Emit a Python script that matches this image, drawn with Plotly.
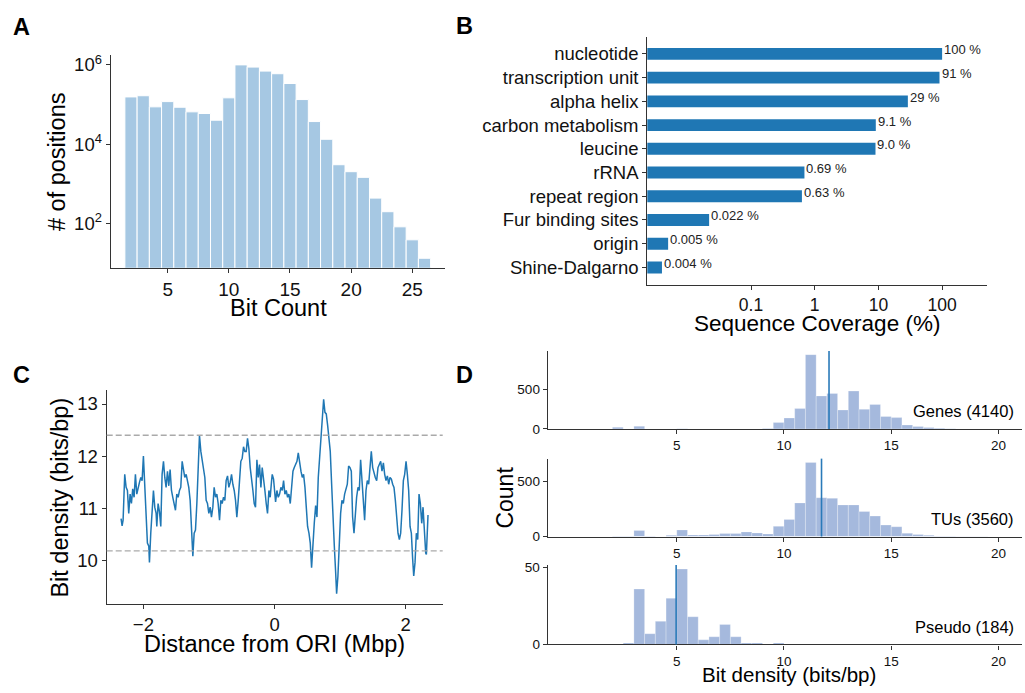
import math
import plotly.graph_objects as go

# ---------------- data ----------------
# Panel A: bit count histogram (log scale)
bit_count = [2, 3, 4, 5, 6, 7, 8, 9, 10, 11, 12, 13, 14, 15, 16, 17, 18, 19, 20, 21, 22, 23, 24, 25, 26]
positions = [1.55e5, 1.66e5, 8.7e4, 1.18e5, 8.5e4, 6.5e4, 5.9e4, 4.0e4, 1.47e5, 1.0e6,
             8.8e5, 6.96e5, 5.98e5, 3.38e5, 1.33e5, 3.7e4, 1.32e4, 3.0e3, 2.0e3, 1.44e3,
             430, 195, 81, 38, 13]

# Panel B: sequence coverage
features = ["nucleotide", "transcription unit", "alpha helix", "carbon metabolism", "leucine",
            "rRNA", "repeat region", "Fur binding sites", "origin", "Shine-Dalgarno"]
coverage = [100, 91, 29, 9.1, 9.0, 0.69, 0.63, 0.022, 0.005, 0.004]
coverage_labels = ["100 %", "91 %", "29 %", "9.1 %", "9.0 %", "0.69 %", "0.63 %", "0.022 %", "0.005 %", "0.004 %"]

# Panel C: bit density along the genome
dist_mbp = [
    -2.341, -2.325, -2.310, -2.285, -2.264, -2.244, -2.224, -2.203, -2.183, -2.163,
    -2.142, -2.122, -2.101, -2.081, -2.061, -2.040, -2.020, -2.000, -1.979, -1.959,
    -1.939, -1.918, -1.908, -1.888, -1.867, -1.847, -1.827, -1.806, -1.796, -1.776,
    -1.755, -1.735, -1.715, -1.694, -1.674, -1.654, -1.633, -1.613, -1.593, -1.572,
    -1.552, -1.531, -1.511, -1.491, -1.470, -1.450, -1.430, -1.409, -1.389, -1.369,
    -1.348, -1.328, -1.308, -1.287, -1.267, -1.246, -1.226, -1.206, -1.185, -1.165,
    -1.145, -1.124, -1.104, -1.084, -1.063, -1.043, -1.023, -1.002, -0.982, -0.962,
    -0.941, -0.921, -0.900, -0.880, -0.860, -0.839, -0.819, -0.799, -0.778, -0.758,
    -0.738, -0.717, -0.697, -0.677, -0.656, -0.636, -0.615, -0.595, -0.575, -0.554,
    -0.534, -0.514, -0.493, -0.473, -0.453, -0.432, -0.412, -0.392, -0.371, -0.351,
    -0.330, -0.310, -0.290, -0.269, -0.249, -0.229, -0.208, -0.188, -0.168, -0.147,
    -0.127, -0.107, -0.086, -0.066, -0.045,
    -0.035, -0.015, 0.006, 0.016, 0.036, 0.057, 0.077, 0.097, 0.118, 0.138,
    0.158, 0.179, 0.199, 0.219, 0.240, 0.260, 0.281, 0.301, 0.321, 0.342,
    0.362, 0.382, 0.403, 0.423, 0.443, 0.464, 0.484, 0.504, 0.525, 0.545,
    0.565, 0.586, 0.606, 0.627, 0.647, 0.667, 0.688, 0.708, 0.728, 0.749,
    0.769, 0.789, 0.810, 0.830, 0.850, 0.871, 0.891, 0.912, 0.932, 0.947,
    0.967, 0.988, 1.008, 1.028, 1.049, 1.069, 1.090, 1.110, 1.130, 1.151,
    1.171, 1.191, 1.212, 1.232, 1.252, 1.273, 1.293, 1.313, 1.334, 1.354,
    1.374, 1.395, 1.415, 1.436, 1.456, 1.476, 1.497, 1.517, 1.537, 1.558,
    1.578, 1.598, 1.619, 1.639, 1.660, 1.680, 1.700, 1.721, 1.741, 1.761,
    1.782, 1.802, 1.822, 1.843, 1.863, 1.883, 1.904, 1.924, 1.944, 1.965,
    1.985, 2.006, 2.026, 2.046, 2.067, 2.087, 2.107, 2.123, 2.143, 2.163,
    2.184, 2.204, 2.224, 2.245, 2.265, 2.285, 2.306, 2.316, 2.331, 2.341,
]
bit_density = [
    10.80, 10.66, 10.77, 11.65, 11.40, 11.34, 10.90, 11.27, 11.09, 11.37,
    11.21, 11.65, 11.27, 11.40, 11.49, 11.59, 11.53, 12.00, 11.46, 10.83,
    10.33, 10.27, 9.96, 10.52, 11.02, 11.34, 11.02, 10.90, 10.65, 11.09,
    10.93, 10.65, 11.65, 11.90, 11.59, 11.40, 11.71, 11.43, 11.74, 11.34,
    11.21, 11.09, 10.96, 11.27, 11.21, 11.34, 11.40, 11.90, 11.71, 11.59,
    11.65, 11.53, 11.40, 11.15, 10.71, 10.08, 10.52, 10.58, 11.09, 11.65,
    12.40, 12.09, 11.90, 11.78, 11.59, 11.15, 11.09, 10.90, 11.02, 10.83,
    11.02, 11.40, 11.21, 11.27, 11.09, 10.77, 11.15, 11.09, 11.21, 11.15,
    11.53, 11.62, 11.40, 11.49, 11.65, 11.46, 11.34, 11.15, 10.83, 11.15,
    11.65, 11.90, 11.96, 12.18, 12.09, 12.09, 12.34, 12.15, 11.78, 11.59,
    11.34, 11.09, 11.02, 11.93, 11.59, 11.84, 11.40, 11.78, 11.59, 11.34,
    11.09, 10.90, 11.34, 11.21, 11.53,
    11.65, 11.56, 11.34, 11.12, 11.34, 11.21, 11.27, 11.40, 11.34, 11.53,
    11.27, 11.34, 11.21, 11.27, 11.09, 11.46, 11.71, 11.78, 11.84, 11.90,
    12.06, 11.84, 11.71, 11.59, 11.65, 11.40, 10.96, 10.65, 10.52, 10.33,
    9.86, 10.46, 10.71, 11.05, 10.83, 11.59, 11.96, 12.28, 12.72, 13.09,
    12.84, 12.81, 12.59, 12.28, 12.09, 11.46, 10.71, 10.27, 9.77, 9.36,
    9.70, 10.40, 10.90, 11.15, 11.09, 11.27, 11.40, 11.46, 11.81, 11.78,
    11.71, 10.83, 10.52, 10.90, 11.21, 11.40, 11.34, 11.93, 11.59, 11.15,
    10.77, 11.34, 11.53, 11.46, 11.71, 12.09, 11.78, 11.65, 11.59, 11.53,
    11.78, 11.84, 11.90, 11.71, 11.87, 11.65, 11.53, 11.62, 11.46, 11.59,
    11.56, 11.46, 11.40, 11.15, 10.77, 10.52, 10.40, 10.52, 10.96, 11.53,
    11.65, 11.90, 11.65, 11.34, 10.65, 10.52, 10.02, 9.70, 9.96, 10.52,
    10.40, 11.27, 11.09, 10.71, 11.02, 10.52, 10.14, 10.11, 10.83, 10.87,
]
density_thresholds = [12.40, 10.18]

# Panel D: histograms of bit density (bin width 0.5)
gene_bins = [2.25, 3.25, 5.25, 9.25, 9.75, 10.25, 10.75, 11.25, 11.75, 12.25, 12.75,
             13.25, 13.75, 14.25, 14.75, 15.25, 15.75, 16.25, 16.75, 17.25, 17.75]
gene_counts = [21, 34, 3, 6, 80, 138, 258, 942, 418, 450, 240,
               480, 248, 310, 157, 143, 50, 29, 17, 8, 3]
tu_bins = [2.25, 2.75, 3.25, 3.75, 4.75, 5.25, 5.75, 6.25, 6.75, 7.25, 7.75, 8.25, 8.75,
           9.25, 9.75, 10.25, 10.75, 11.25, 11.75, 12.25, 12.75, 13.25, 13.75, 14.25,
           14.75, 15.25, 15.75, 16.25, 16.75, 17.25, 17.75, 18.25, 18.75, 19.25]
tu_counts = [4, 4, 54, 6, 12, 60, 15, 15, 18, 27, 27, 42, 33,
             24, 92, 155, 304, 670, 351, 345, 286, 286, 226, 185,
             104, 89, 30, 18, 12, 6, 4, 3, 3, 2]
pseudo_bins = [2.75, 3.25, 3.75, 4.25, 4.75, 5.25, 5.75, 6.25, 6.75, 7.25, 7.75, 8.25, 8.75, 9.75]
pseudo_counts = [1, 36, 7, 15, 30, 49, 18, 3, 5, 13, 5, 1, 1, 1]
group_names = ["Genes (4140)", "TUs (3560)", "Pseudo (184)"]
group_means = [12.1, 11.75, 4.97]

# ---------------- styling helpers ----------------
FONT = "Liberation Sans, Arial, Helvetica, sans-serif"
W, H = 1025, 693
AX = "#333333"
TXT = "#111111"


def px(x):
    return x / W


def py(y):
    return 1 - y / H


def axis(domain, size, **kw):
    d = dict(domain=domain, showline=True, linecolor=AX, linewidth=1.2, ticks="outside",
             ticklen=4, tickwidth=1.1, tickcolor=AX, showgrid=False, zeroline=False,
             tickfont=dict(family=FONT, size=size, color=TXT), fixedrange=True)
    d.update(kw)
    return d


fig = go.Figure()

# A
fig.add_trace(go.Bar(x=bit_count, y=positions, width=1.0,
                     marker=dict(color="#a6c8e3", line=dict(color="white", width=1)),
                     xaxis="x", yaxis="y"))
# B
fig.add_trace(go.Bar(x=coverage, y=features, orientation="h", width=0.5,
                     marker=dict(color="#1f77b4", line=dict(width=0)),
                     xaxis="x2", yaxis="y2"))
# C
fig.add_trace(go.Scatter(x=dist_mbp, y=bit_density, mode="lines",
                         line=dict(color="#1f77b4", width=1.5),
                         xaxis="x3", yaxis="y3"))
# D
for i, (bins, counts) in enumerate([(gene_bins, gene_counts), (tu_bins, tu_counts),
                                    (pseudo_bins, pseudo_counts)]):
    fig.add_trace(go.Bar(x=bins, y=counts, width=0.5,
                         marker=dict(color="#a5b9dd", line=dict(color="rgba(255,255,255,0.5)", width=0.5)),
                         xaxis=f"x{4 + i}", yaxis=f"y{4 + i}"))

shapes = []
for v in density_thresholds:
    shapes.append(dict(type="line", xref="x3 domain", yref="y3", x0=0, x1=1, y0=v, y1=v,
                       line=dict(color="#aaaaaa", width=1.3, dash="6px,3px")))
for i, m in enumerate(group_means):
    shapes.append(dict(type="line", xref=f"x{4 + i}", yref=f"y{4 + i} domain", x0=m, x1=m, y0=0, y1=1,
                       line=dict(color="#2a7ab9", width=1.6)))

annotations = []


def label(text, x, y, size, bold=False, angle=0, xanchor="center", yanchor="middle"):
    annotations.append(dict(text=f"<b>{text}</b>" if bold else text, xref="paper", yref="paper",
                            x=px(x), y=py(y), showarrow=False, textangle=angle,
                            xanchor=xanchor, yanchor=yanchor,
                            font=dict(family=FONT, size=size, color="#000000")))


# panel letters
label("A", 21.5, 22, 23.5, bold=True)
label("B", 464.5, 21, 23.5, bold=True)
label("C", 21.5, 377, 23.5, bold=True)
label("D", 464.5, 377, 23.5, bold=True)

# axis titles
label("Bit Count", 278, 309, 23.5)
label("# of positions", 57, 160, 23.5, angle=-90)
label("Sequence Coverage (%)", 817, 325, 22.5)
label("Distance from ORI (Mbp)", 274, 651, 23.5)
label("Bit density (bits/bp)", 60, 502, 23.5, angle=-90)
label("Count", 505, 502, 23, angle=-90)
label("Bit density (bits/bp)", 789, 682, 20.5)

# D group labels
for name, ycen in zip(group_names, [414, 524, 634]):
    label(name, 1016, ycen, 16.5, xanchor="right")

# B value labels
for v, t, f in zip(coverage, coverage_labels, features):
    annotations.append(dict(text=t, xref="x2", yref="y2", x=math.log10(v), y=f, showarrow=False,
                            xanchor="left", yanchor="middle", xshift=0, yshift=4,
                            font=dict(family=FONT, size=13, color="#222222")))

fig.update_layout(
    width=W, height=H, margin=dict(l=0, r=0, t=0, b=0),
    paper_bgcolor="white", plot_bgcolor="white", showlegend=False, barmode="overlay",
    font=dict(family=FONT, color=TXT),
    shapes=shapes, annotations=annotations,
    # A
    xaxis=axis([px(110.7), px(445.3)], 19, anchor="y", range=[0.34, 27.7],
               tickvals=[5, 10, 15, 20, 25]),
    yaxis=axis([py(267.7), py(50.7)], 18.5, anchor="x", type="log", range=[0.876, 6.256],
               tickvals=[1e2, 1e4, 1e6],
               ticktext=["10<sup>2</sup>", "10<sup>4</sup>", "10<sup>6</sup>"]),
    # B
    xaxis2=axis([px(647.3), px(986.7)], 17.5, anchor="y2", type="log", range=[-2.628, 2.70],
                tickvals=[0.1, 1, 10, 100], ticktext=["0.1", "1", "10", "100"]),
    yaxis2=axis([py(285), py(32.3)], 18.5, anchor="x2", type="category",
                categoryorder="array", categoryarray=features, range=[9.725, -0.725]),
    # C
    xaxis3=axis([px(106.7), px(442.7)], 18.5, anchor="y3", range=[-2.56, 2.565],
                tickvals=[-2, 0, 2], ticktext=["\u22122", "0", "2"]),
    yaxis3=axis([py(610), py(392.3)], 18.5, anchor="x3", range=[9.17, 13.27],
                tickvals=[10, 11, 12, 13]),
    # D
    xaxis4=axis([px(547.7), px(1022)], 13.5, anchor="y4", range=[-1.02, 21.1], tickvals=[5, 10, 15, 20]),
    yaxis4=axis([py(432), py(352.7)], 13.5, anchor="x4", range=[0, 987], tickvals=[0, 500]),
    xaxis5=axis([px(547.7), px(1022)], 13.5, anchor="y5", range=[-1.02, 21.1], tickvals=[5, 10, 15, 20]),
    yaxis5=axis([py(541.7), py(462.3)], 13.5, anchor="x5", range=[0, 704], tickvals=[0, 500]),
    xaxis6=axis([px(547.7), px(1022)], 13.5, anchor="y6", range=[-1.02, 21.1], tickvals=[5, 10, 15, 20]),
    yaxis6=axis([py(651.7), py(570.7)], 13.5, anchor="x6", range=[0, 51.6], tickvals=[0, 50]),
)

fig.write_html("out.html")
